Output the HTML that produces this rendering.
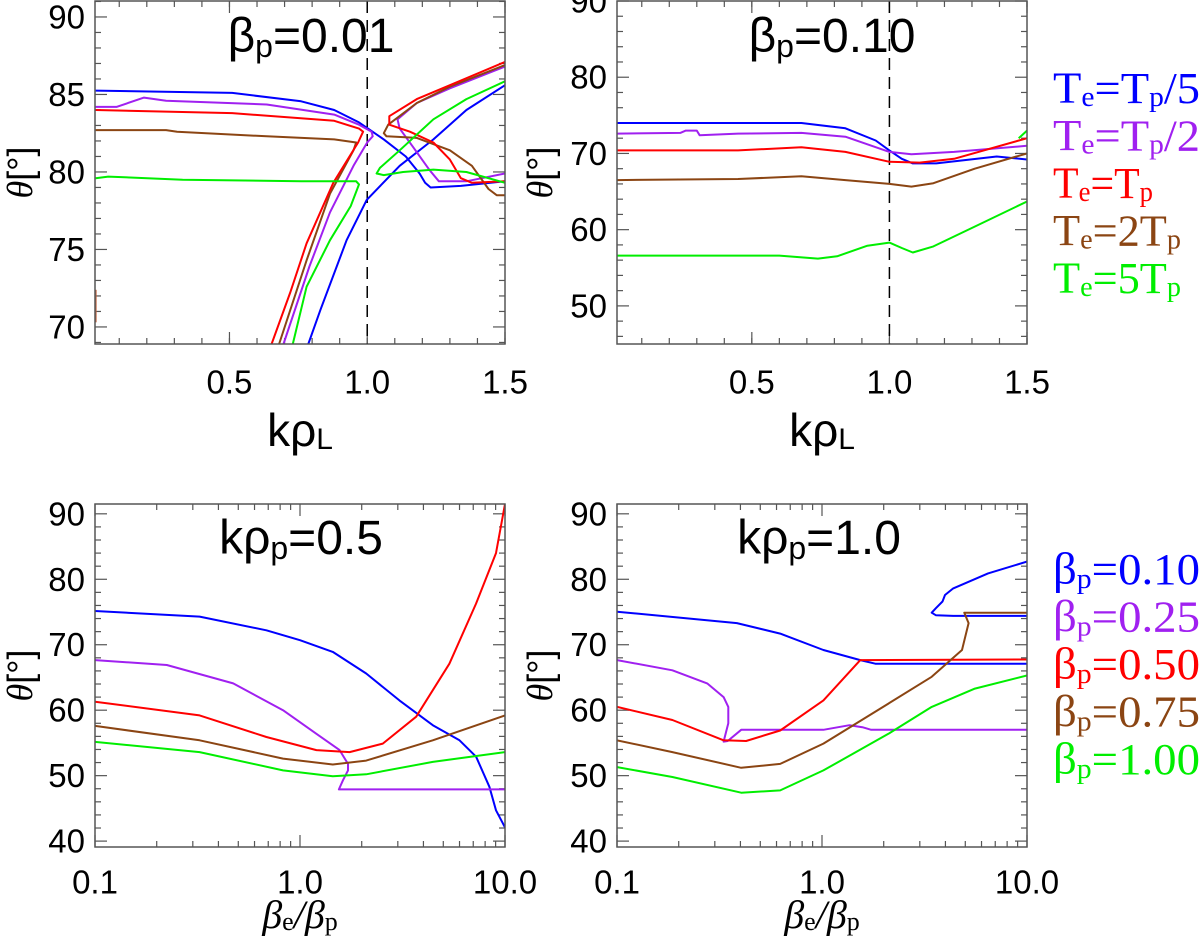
<!DOCTYPE html>
<html><head><meta charset="utf-8"><style>
html,body{margin:0;padding:0;background:#fff;}
svg{display:block;}
text{font-family:"Liberation Sans","DejaVu Sans",sans-serif;}
.ser{font-family:"Liberation Serif","DejaVu Serif",serif;}
</style></head><body>
<svg id="fig" width="1200" height="936" viewBox="0 0 1200 936" xmlns="http://www.w3.org/2000/svg"></svg>
<script>
// ---------- DATA ----------
const colorsT = ["#0000ff","#a020f0","#ff0000","#8b4513","#00ee00"];
const legendTop = ["T/5","T/2","T","2T","5T"];
// Panel A (beta_p=0.01)
const aBlueK = [0.014,0.51,0.76,0.88,0.97,1.06,1.14,1.19,1.21,1.23,1.34,1.5];
const aBlueT = [85.25,85.1,84.56,84.0,83.2,82.1,81.0,79.9,79.3,79.0,79.1,79.4];
const aBlue2K = [0.786,0.83,0.925,0.998,1.118,1.24,1.36,1.5];
const aBlue2T = [68.9,71.1,75.6,78.2,80.4,82.1,84.0,85.6];
const aPurpK = [0.014,0.09,0.19,0.27,0.635,0.88,0.97,1.016,1.02,1.0,0.95,0.865,0.79,0.696];
const aPurpT = [84.2,84.2,84.8,84.6,84.35,83.7,83.05,82.6,82.3,81.9,80.4,77.4,73.9,68.9];
const aPurp2K = [1.5,1.3,1.18,1.11,1.118,1.167,1.227,1.26,1.36,1.5];
const aPurp2T = [86.8,85.4,84.45,83.4,82.8,81.6,80.1,79.4,79.4,79.9];
const aRedK = [0.014,0.51,0.88,0.97,0.985,0.967,0.877,0.78,0.72,0.653];
const aRedT = [84.0,83.8,83.3,82.8,82.6,81.9,79.3,75.4,72.2,68.9];
const aRed2K = [1.5,1.3,1.18,1.08,1.08,1.155,1.24,1.30,1.34,1.38,1.5];
const aRed2T = [87.1,85.6,84.7,83.6,83.05,82.6,81.9,80.8,79.6,79.3,79.4];
const aBrnK = [0.014,0.27,0.31,0.635,0.88,0.96,0.95,0.865,0.78,0.68];
const aBrnT = [82.7,82.7,82.6,82.3,82.1,81.9,81.4,78.6,74.3,68.9];
const aBrn2K = [1.5,1.3,1.18,1.076,1.06,1.07,1.18,1.30,1.38,1.44,1.47,1.5];
const aBrn2T = [86.9,85.5,84.45,83.05,82.5,82.3,82.2,81.4,80.4,78.9,78.5,78.5];
const aBrn3K = [0.014,0.014];
const aBrn3T = [72.4,70.3];
const aGrnK = [0.014,0.06,0.33,0.76,0.96,0.97,0.94,0.865,0.78,0.73];
const aGrnT = [79.6,79.7,79.5,79.4,79.4,79.2,77.8,75.6,72.6,68.9];
const aGrn2K = [1.5,1.36,1.24,1.118,1.046,1.034,1.06,1.13,1.24,1.36,1.5];
const aGrn2T = [85.85,84.7,83.4,81.4,80.26,79.9,79.8,80.0,80.15,80.0,79.3];
// Panel B (beta_p=0.10)
const bBlueK = [0.01,0.68,0.84,0.95,1.0,1.045,1.085,1.17,1.39,1.5];
const bBlueT = [74.0,74.0,73.3,71.7,70.4,69.3,68.7,68.7,69.6,69.2];
const bPurpK = [0.01,0.24,0.26,0.30,0.31,0.45,0.68,0.84,1.0,1.08,1.235,1.5];
const bPurpT = [72.6,72.7,73.0,73.0,72.4,72.6,72.7,72.2,70.2,69.9,70.2,71.0];
const bRedK = [0.01,0.45,0.68,0.84,1.0,1.11,1.235,1.5];
const bRedT = [70.4,70.4,70.8,70.2,68.9,68.8,69.3,72.0];
const bBrnK = [0.01,0.45,0.68,0.84,1.0,1.08,1.16,1.31,1.5];
const bBrnT = [66.5,66.65,67.0,66.5,66.0,65.65,66.1,68.0,70.0];
const bGrnK = [0.01,0.6,0.74,0.81,0.92,1.0,1.045,1.085,1.16,1.31,1.5];
const bGrnT = [56.6,56.6,56.2,56.5,57.9,58.3,57.6,57.0,57.8,60.4,63.7];
const bGrn2K = [1.47,1.5];
const bGrn2T = [72.0,73.0];
// Panel C (k rho_p = 0.5): log10(beta_e/beta_p), theta
const cBlueL = [-1,-0.49,-0.164,0,0.16,0.323,0.485,0.648,0.778,0.859,0.924,0.956,1];
const cBlueT = [75.15,74.3,72.2,70.7,68.9,65.6,61.5,57.7,55.4,52.9,48.3,44.7,42.1];
const cPurpL = [-1,-0.65,-0.326,-0.083,0.08,0.193,0.234,0.234,0.21,0.19,0.242,1];
const cPurpT = [67.65,66.9,64.1,60.0,56.4,53.9,51.8,50.8,49.3,47.9,47.9,47.9];
const cRedL = [-1,-0.49,-0.164,0.08,0.242,0.404,0.567,0.729,0.859,0.956,1];
const cRedT = [61.3,59.2,55.9,53.9,53.6,54.9,59.0,67.1,76.3,84.0,91.5];
const cBrnL = [-1,-0.49,-0.083,0.16,0.323,0.648,1];
const cBrnT = [57.6,55.4,52.6,51.7,52.3,55.4,59.2];
const cGrnL = [-1,-0.49,-0.083,0.16,0.323,0.648,1];
const cGrnT = [55.15,53.6,50.8,49.9,50.2,52.1,53.6];
// Panel D (k rho_p = 1.0)
const dBlueL = [-1,-0.415,-0.204,0.007,0.187,0.26,1];
const dBlueT = [75.05,73.3,71.7,69.2,67.65,67.1,67.1];
const dBlue2L = [1,0.81,0.64,0.6,0.588,0.556,0.535,0.556,0.64,1];
const dBlue2T = [82.7,80.9,78.6,77.6,76.6,75.6,74.9,74.5,74.4,74.4];
const dPurpL = [-1,-0.73,-0.56,-0.48,-0.457,-0.457,-0.48,-0.46,-0.394,0.007,0.134,0.197,0.24,1];
const dPurpT = [67.65,66.1,64.1,62.0,60.5,58.0,55.2,55.3,57.0,57.0,57.7,57.4,57.0,57.0];
const dRedL = [-1,-0.73,-0.48,-0.37,-0.204,0.007,0.187,1];
const dRedT = [60.5,58.5,55.4,55.3,56.9,61.5,67.65,67.75];
const dBrnL = [-1,-0.73,-0.394,-0.204,0.007,0.324,0.535,0.683,0.715,0.694,0.725,1];
const dBrnT = [55.4,53.6,51.2,51.8,54.9,61.0,65.1,69.2,73.3,74.9,74.9,74.9];
const dGrnL = [-1,-0.73,-0.394,-0.204,0.007,0.324,0.535,0.746,1];
const dGrnT = [51.3,49.8,47.4,47.75,50.8,56.4,60.5,63.3,65.3];
const legendBottom = ["0.10","0.25","0.50","0.75","1.00"];

// ---------- DRAW ----------
const NS="http://www.w3.org/2000/svg";
const fig=document.getElementById('fig');
function el(tag,attrs,parent){const e=document.createElementNS(NS,tag);for(const k in attrs)e.setAttribute(k,attrs[k]);(parent||fig).appendChild(e);return e;}

function panel(cfg){
  const g=el('g',{});
  
  
  const {x0,x1,y0,y1,xmin,xmax,ymin,ymax}=cfg;
  const sx=v=>x0+(v-xmin)/(xmax-xmin)*(x1-x0);
  const sy=v=>y1-(v-ymin)/(ymax-ymin)*(y1-y0);
  const cid='clip-'+cfg.name;
  const cp=el('clipPath',{id:cid},g);el('rect',{x:x0,y:y0,width:x1-x0,height:y1-y0},cp);
  const tg=el('g',{stroke:'#555','stroke-width':1.2},g);
  
  
  cfg.xMinor.forEach(v=>{const X=sx(v);el('line',{x1:X,x2:X,y1:y1,y2:y1-6},tg);el('line',{x1:X,x2:X,y1:y0,y2:y0+6},tg);});
  cfg.xMajor.forEach(v=>{const X=sx(v);el('line',{x1:X,x2:X,y1:y1,y2:y1-12},tg);el('line',{x1:X,x2:X,y1:y0,y2:y0+12},tg);});
  for(let v=Math.ceil(ymin/cfg.yMinorStep)*cfg.yMinorStep;v<=ymax;v+=cfg.yMinorStep){const Y=sy(v);const L=(v%cfg.yMajorStep===0)?12:6;el('line',{x1:x0,x2:x0+L,y1:Y,y2:Y},tg);el('line',{x1:x1,x2:x1-L,y1:Y,y2:Y},tg);}
  cfg.xLabels.forEach((t,i)=>{const tx=el('text',{x:sx(cfg.xMajor[i]),y:cfg.xLabelY,'font-size':33,'text-anchor':'middle','dominant-baseline':'central'},g);tx.textContent=t;
    
    });
  for(let v=Math.ceil(ymin/cfg.yMajorStep)*cfg.yMajorStep;v<=ymax;v+=cfg.yMajorStep){const tx=el('text',{x:x0-10,y:sy(v),'font-size':33,'text-anchor':'end','dominant-baseline':'central'},g);tx.textContent=String(v);
    
    }
  if(cfg.dash!==undefined){const d=el('line',{x1:sx(cfg.dash),x2:sx(cfg.dash),y1:y0,y2:y1,stroke:'#000','stroke-width':1.5,'stroke-dasharray':'12,7'},g);
    
    }
  const sg=el('g',{'clip-path':'url(#'+cid+')',fill:'none','stroke-width':2,'stroke-linejoin':'round'},g);
  cfg.series.forEach(s=>{
    const pts=s.x.map((v,i)=>sx(v).toFixed(1)+','+sy(s.y[i]).toFixed(1)).join(' ');
    const p=el('polyline',{points:pts,stroke:s.c},sg);
    
    
  });
  const fr=el('rect',{x:x0,y:y0,width:x1-x0,height:y1-y0,fill:'none',stroke:'#555','stroke-width':1.5},g);
  
  
  const t=el('text',{x:cfg.tx,y:cfg.ty,'font-size':48,'text-anchor':'middle','dominant-baseline':'central'},g);
  t.innerHTML=cfg.title;
  
  
  const yt=el('text',{x:0,y:0,'font-size':36,'text-anchor':'middle','dominant-baseline':'central',transform:'translate('+cfg.ytx+','+((y0+y1)/2)+') rotate(-90)'},g);
  yt.innerHTML='<tspan class="ser" font-style="italic">θ</tspan>[°]';
  
  
  const xt=el('text',{x:(x0+x1)/2,y:cfg.xty,'font-size':cfg.xtSize,'text-anchor':'middle','dominant-baseline':'central'},g);
  xt.innerHTML=cfg.xtitle;
  if(cfg.xtSerif) xt.setAttribute('class','ser');
  
  
}
const kMinor=[];for(let i=1;i<=15;i++)kMinor.push(i/10);
const logMinor=[];[0.1,1].forEach(b=>{for(let m=2;m<=9;m++)logMinor.push(Math.log10(b*m));});
const kTitle='kρ<tspan font-size="30" dy="9">L</tspan>';
const bTitle='<tspan font-style="italic">β</tspan><tspan font-size="26" dy="7">e</tspan><tspan dy="-7" font-style="italic">/β</tspan><tspan font-size="26" dy="7">p</tspan>';
const sub=(s)=>'<tspan font-size="32" dy="10">'+s+'</tspan><tspan dy="-10">';
const names=["blue","purple","red","brown","green"];

panel({name:'panel-beta-0-01',x0:95,x1:505,y0:1,y1:344,xmin:0.012,xmax:1.5,ymin:68.9,ymax:91.03,
  xMinor:kMinor,xMajor:[0.5,1.0,1.5],xLabels:["0.5","1.0","1.5"],xLabelY:382,yMinorStep:1,yMajorStep:5,
  dash:1.0,tx:311,ty:36,title:'β'+sub('p')+'=0.01</tspan>',ytx:20,xty:430,xtSize:46,xtitle:kTitle,
  series:[{x:aBlueK,y:aBlueT,c:colorsT[0],n:'series-blue'},{x:aBlue2K,y:aBlue2T,c:colorsT[0],n:'series-blue-branch'},
  {x:aPurpK,y:aPurpT,c:colorsT[1],n:'series-purple'},{x:aPurp2K,y:aPurp2T,c:colorsT[1],n:'series-purple-branch'},
  {x:aBrnK,y:aBrnT,c:colorsT[3],n:'series-brown'},{x:aBrn2K,y:aBrn2T,c:colorsT[3],n:'series-brown-branch'},{x:aBrn3K,y:aBrn3T,c:'#c0603a',n:'series-brown-edge'},
  {x:aRedK,y:aRedT,c:colorsT[2],n:'series-red'},{x:aRed2K,y:aRed2T,c:colorsT[2],n:'series-red-branch'},
  {x:aGrnK,y:aGrnT,c:colorsT[4],n:'series-green'},{x:aGrn2K,y:aGrn2T,c:colorsT[4],n:'series-green-branch'}]});

panel({name:'panel-beta-0-10',x0:617,x1:1027,y0:1,y1:344,xmin:0.01,xmax:1.5,ymin:45,ymax:90,
  xMinor:kMinor,xMajor:[0.5,1.0,1.5],xLabels:["0.5","1.0","1.5"],xLabelY:382,yMinorStep:2,yMajorStep:10,
  dash:1.0,tx:832,ty:36,title:'β'+sub('p')+'=0.10</tspan>',ytx:540,xty:430,xtSize:46,xtitle:kTitle,
  series:[{x:bBlueK,y:bBlueT,c:colorsT[0],n:'series-blue'},{x:bPurpK,y:bPurpT,c:colorsT[1],n:'series-purple'},
  {x:bRedK,y:bRedT,c:colorsT[2],n:'series-red'},{x:bBrnK,y:bBrnT,c:colorsT[3],n:'series-brown'},
  {x:bGrnK,y:bGrnT,c:colorsT[4],n:'series-green'},{x:bGrn2K,y:bGrn2T,c:colorsT[4],n:'series-green-edge'}]});

panel({name:'panel-krho-0-5',x0:95,x1:505,y0:504,y1:847,xmin:-1,xmax:1,ymin:39.1,ymax:91.5,
  xMinor:logMinor,xMajor:[-1,0,1],xLabels:["0.1","1.0","10.0"],xLabelY:882,yMinorStep:2,yMajorStep:10,
  tx:301,ty:538,title:'kρ'+sub('p')+'=0.5</tspan>',ytx:20,xty:914,xtSize:40,xtSerif:true,xtitle:bTitle,
  series:[{x:cBlueL,y:cBlueT,c:colorsT[0],n:'series-beta-0-10'},{x:cPurpL,y:cPurpT,c:colorsT[1],n:'series-beta-0-25'},
  {x:cRedL,y:cRedT,c:colorsT[2],n:'series-beta-0-50'},{x:cBrnL,y:cBrnT,c:colorsT[3],n:'series-beta-0-75'},{x:cGrnL,y:cGrnT,c:colorsT[4],n:'series-beta-1-00'}]});

panel({name:'panel-krho-1-0',x0:617,x1:1027,y0:504,y1:847,xmin:-1,xmax:1,ymin:39.1,ymax:91.5,
  xMinor:logMinor,xMajor:[-1,0,1],xLabels:["0.1","1.0","10.0"],xLabelY:882,yMinorStep:2,yMajorStep:10,
  tx:819,ty:538,title:'kρ'+sub('p')+'=1.0</tspan>',ytx:540,xty:914,xtSize:40,xtSerif:true,xtitle:bTitle,
  series:[{x:dBlueL,y:dBlueT,c:colorsT[0],n:'series-beta-0-10'},{x:dBlue2L,y:dBlue2T,c:colorsT[0],n:'series-beta-0-10-branch'},
  {x:dPurpL,y:dPurpT,c:colorsT[1],n:'series-beta-0-25'},{x:dRedL,y:dRedT,c:colorsT[2],n:'series-beta-0-50'},
  {x:dBrnL,y:dBrnT,c:colorsT[3],n:'series-beta-0-75'},{x:dGrnL,y:dGrnT,c:colorsT[4],n:'series-beta-1-00'}]});

const lt=["T<tspan font-size='28' dy='9'>e</tspan><tspan dy='-9'>=T</tspan><tspan font-size='28' dy='9'>p</tspan><tspan dy='-9'>/5</tspan>",
 "T<tspan font-size='28' dy='9'>e</tspan><tspan dy='-9'>=T</tspan><tspan font-size='28' dy='9'>p</tspan><tspan dy='-9'>/2</tspan>",
 "T<tspan font-size='28' dy='9'>e</tspan><tspan dy='-9'>=T</tspan><tspan font-size='28' dy='9'>p</tspan>",
 "T<tspan font-size='28' dy='9'>e</tspan><tspan dy='-9'>=2T</tspan><tspan font-size='28' dy='9'>p</tspan>",
 "T<tspan font-size='28' dy='9'>e</tspan><tspan dy='-9'>=5T</tspan><tspan font-size='28' dy='9'>p</tspan>"];
const ltW=[147,147,100,128,128];
lt.forEach((h,i)=>{const t=el('text',{x:1053,y:88+i*47.5,'font-size':44,fill:colorsT[i],'dominant-baseline':'central','class':'ser',textLength:String(ltW[i]),lengthAdjust:'spacingAndGlyphs'});t.innerHTML=h;
  
  });
legendBottom.forEach((v,i)=>{const t=el('text',{x:1053,y:569+i*47.5,'font-size':44,fill:colorsT[i],'dominant-baseline':'central','class':'ser',textLength:'147',lengthAdjust:'spacingAndGlyphs'});
  t.innerHTML="β<tspan font-size='28' dy='10'>p</tspan><tspan dy='-10'>="+v+"</tspan>";
  
  });
</script>
</body></html>
